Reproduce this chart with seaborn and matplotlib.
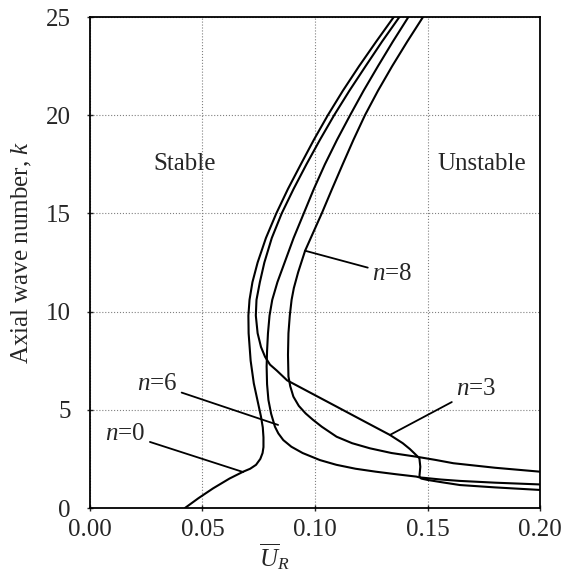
import matplotlib
matplotlib.use("Agg")
import matplotlib.pyplot as plt
import seaborn as sns

# neutral stability curves (U_R bar vs k)
k_n0 = [0, 0.5, 1.0, 1.5, 1.85, 2.0, 2.2, 2.5, 2.8, 3.1, 3.6, 4.1, 4.65, 5.5, 6.35, 7.5, 8.9, 9.8,
        10.6, 11.5, 12.5, 13.75, 15, 16.25, 17.5, 18.75, 20, 21.25, 22.5, 23.75, 25]
u_n0 = [0.0422, 0.0482, 0.0547, 0.0620, 0.0681, 0.0712, 0.0738, 0.0757, 0.0767, 0.0771, 0.0771, 0.0768,
        0.0760, 0.0744, 0.0728, 0.0714, 0.0705, 0.0704, 0.0709, 0.0722, 0.0745, 0.0782, 0.0828, 0.0880,
        0.0937, 0.0995, 0.1057, 0.1124, 0.1196, 0.1272, 0.1350]

k_n3 = [25, 23.75, 22.5, 21.25, 20, 18.75, 17.5, 16.25, 15, 13.75, 12.5, 11.5, 10.6, 9.8, 8.9, 8.2,
        7.7, 7.3, 7.0, 6.5, 5.8, 5.15, 4.4, 3.72, 3.3, 3.0, 2.78, 2.6, 2.53, 2.1, 1.6, 1.5, 1.43, 1.3,
        1.17, 1.05, 0.92]
u_n3 = [0.1375, 0.1298, 0.1225, 0.1153, 0.1085, 0.1022, 0.0962, 0.0905, 0.0852, 0.0808, 0.0775, 0.0755,
        0.0740, 0.0737, 0.0745, 0.0760, 0.0778, 0.0800, 0.0830, 0.0876, 0.0991, 0.1098, 0.1221, 0.1333,
        0.1390, 0.1422, 0.1442, 0.1458, 0.1464, 0.1468, 0.1464, 0.1472, 0.1500, 0.1570, 0.1644, 0.1800,
        0.2000]

k_n6 = [25, 23.75, 22.5, 21.25, 20, 18.75, 17.5, 16.25, 15, 13.75, 12.5, 11.5, 10.6, 9.8, 8.9, 8.0,
        7.2, 6.3, 5.5, 4.8, 4.14, 3.8, 3.46, 3.12, 2.8, 2.44, 2.2, 2.0, 1.85, 1.72, 1.6, 1.56, 1.45,
        1.38, 1.29, 1.2]
u_n6 = [0.1415, 0.1346, 0.1280, 0.1216, 0.1156, 0.1098, 0.1044, 0.0995, 0.0950, 0.0905, 0.0865, 0.0833,
        0.0810, 0.0798, 0.0791, 0.0787, 0.0785, 0.0787, 0.0793, 0.0805, 0.0822, 0.0837, 0.0859, 0.0895,
        0.0945, 0.1022, 0.1095, 0.1180, 0.1270, 0.1360, 0.1450, 0.1464, 0.1560, 0.1644, 0.1800, 0.2000]

k_n8 = [25, 23.75, 22.5, 21.25, 20, 18.75, 17.5, 16.25, 15, 14, 13.1, 12, 11.2, 10.6, 9.8, 8.9, 7.8,
        6.7, 6.2, 5.67, 5.2, 4.82, 4.5, 4.14, 3.63, 3.3, 3.04, 2.8, 2.61, 2.45, 2.28, 2.05, 1.85]
u_n8 = [0.1480, 0.1410, 0.1343, 0.1280, 0.1222, 0.1171, 0.1123, 0.1076, 0.1030, 0.0991, 0.0956, 0.0925,
        0.0906, 0.0896, 0.0888, 0.0882, 0.0880, 0.0882, 0.0890, 0.0904, 0.0928, 0.0958, 0.0990, 0.1030,
        0.1096, 0.1165, 0.1244, 0.1340, 0.1452, 0.1535, 0.1615, 0.1800, 0.2000]

curves = [(u_n0, k_n0), (u_n3, k_n3), (u_n6, k_n6), (u_n8, k_n8)]

# labels: text, text position, point on curve
label_text = ["$n$=0", "$n$=3", "$n$=6", "$n$=8"]
label_xy = [(0.0681, 1.83), (0.1333, 3.72), (0.0836, 4.23), (0.0956, 13.1)]
label_pos = [(0.0246, 3.77), (0.1628, 6.06), (0.0387, 6.3), (0.1255, 11.9)]
label_ha = ["right", "left", "right", "left"]

xticks = [0.00, 0.05, 0.10, 0.15, 0.20]
yticks = [0, 5, 10, 15, 20, 25]

sns.set_style("ticks")
plt.rcParams["font.family"] = ["Liberation Serif", "DejaVu Serif"]
plt.rcParams["mathtext.fontset"] = "custom"
plt.rcParams["mathtext.rm"] = "Liberation Serif"
plt.rcParams["mathtext.it"] = "Liberation Serif:italic"

fig = plt.figure(figsize=(5.67, 5.75), dpi=100)
ax = fig.add_axes([0.1587, 0.1165, 0.7937, 0.8539])

for u, k in curves:
    sns.lineplot(x=u, y=k, sort=False, estimator=None, color="black", lw=1.5, ax=ax)

for txt, xy, pos, ha in zip(label_text, label_xy, label_pos, label_ha):
    ax.annotate(txt, xy=xy, xytext=pos, ha=ha, va="center", fontsize=18,
                arrowprops=dict(arrowstyle="-", color="black", lw=1.3, shrinkA=1, shrinkB=0))

ax.text(0.042, 17.5, "Stable", ha="center", va="center", fontsize=18)
ax.text(0.1741, 17.5, "Unstable", ha="center", va="center", fontsize=18)

ax.set_xlim(0, 0.2)
ax.set_ylim(0, 25)
ax.set_xticks(xticks)
ax.set_yticks(yticks)
ax.set_xticklabels([f"{t:.2f}" for t in xticks])
ax.tick_params(axis="both", direction="inout", length=4, width=1, labelsize=18)
ax.tick_params(axis="x", pad=6)
ax.tick_params(axis="y", pad=12)
ax.grid(True, linestyle=":", color="0.5", lw=0.8)

for s in ax.spines.values():
    s.set_visible(True)
    s.set_linewidth(1.3)
    s.set_color("black")

ax.set_xlabel(r"$\overline{U}_R$", fontsize=18)
ax.xaxis.set_label_coords(0.41, -0.068)
ax.set_ylabel("Axial wave number, $k$", fontsize=18)
ax.yaxis.set_label_coords(-0.125, 0.52)

fig.savefig("out.png", dpi=100)
